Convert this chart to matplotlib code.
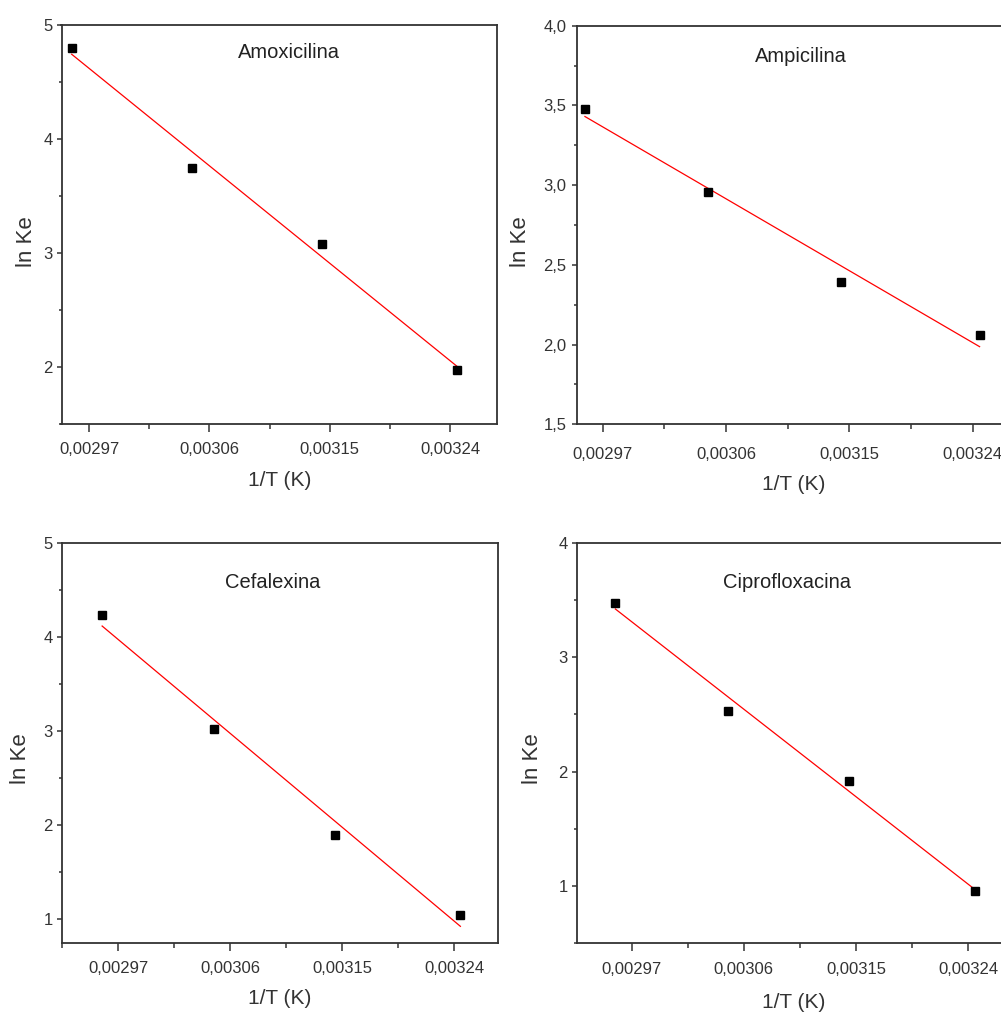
import numpy as np
import matplotlib
matplotlib.use("Agg")
import matplotlib.pyplot as plt
from matplotlib.ticker import FixedLocator, FuncFormatter

plt.rcParams['font.family'] = ['Liberation Sans', 'DejaVu Sans']

# 1/T for the four temperatures (same in every panel)
inv_T = [0.002957, 0.003047, 0.003144, 0.003245]

names = ["Amoxicilina", "Ampicilina", "Cefalexina", "Ciprofloxacina"]
ln_ke_amox = [4.80, 3.75, 3.08, 1.98]
ln_ke_ampi = [3.48, 2.96, 2.39, 2.06]
ln_ke_cefa = [4.24, 3.02, 1.90, 1.05]
ln_ke_cipro = [3.48, 2.53, 1.92, 0.95]

x_major = [0.00297, 0.00306, 0.00315, 0.00324]
x_minor = [0.002925, 0.003015, 0.003105, 0.003195]

W, H = 1001, 1014
fig = plt.figure(figsize=(W / 100, H / 100), dpi=100)


def px_box(l, t, r, b):
    return [l / W, 1 - b / H, (r - l) / W, (b - t) / H]


panels = [
    dict(y=ln_ke_amox, box=(61.5, 25, 497, 424.3), xlim=(0.0029494, 0.003275),
         ylim=(1.5, 5), ymaj=[2, 3, 4, 5], ymin=np.arange(1.5, 5.01, 0.5), ydec=0,
         title=(289, 53), ylab=(27, 242), xlab=(280, 480), xpad=7, ypad=3),
    dict(y=ln_ke_ampi, box=(576.7, 25.7, 1020.7, 424.3), xlim=(0.002951, 0.003275),
         ylim=(1.5, 4), ymaj=[1.5, 2.0, 2.5, 3.0, 3.5, 4.0], ymin=np.arange(1.5, 4.01, 0.25), ydec=1,
         title=(801, 57), ylab=(520, 242), xlab=(794, 485), xpad=10, ypad=4),
    dict(y=ln_ke_cefa, box=(61.7, 543.3, 497.7, 942.7), xlim=(0.0029245, 0.003275),
         ylim=(0.75, 5), ymaj=[1, 2, 3, 4, 5], ymin=np.arange(1.0, 5.01, 0.5), ydec=0,
         title=(273, 582), ylab=(20, 759), xlab=(280, 998), xpad=7, ypad=3),
    dict(y=ln_ke_cipro, box=(576.7, 543.3, 1012, 942.7), xlim=(0.002926, 0.003275),
         ylim=(0.5, 4), ymaj=[1, 2, 3, 4], ymin=np.arange(0.5, 4.01, 0.5), ydec=0,
         title=(787, 583), ylab=(533, 759), xlab=(794, 1003), xpad=8, ypad=3),
]

for name, p in zip(names, panels):
    ax = fig.add_axes(px_box(*p['box']))
    x = np.array(inv_T)
    y = np.array(p['y'])
    slope, icpt = np.polyfit(x, y, 1)
    ax.plot(x, slope * x + icpt, color='#ff0000', lw=0.9, zorder=2)
    ax.plot(x, y, 's', color='black', ms=5.2, zorder=3)

    ax.set_xlim(*p['xlim'])
    ax.set_ylim(*p['ylim'])
    ax.xaxis.set_major_locator(FixedLocator(x_major))
    ax.xaxis.set_minor_locator(FixedLocator(x_minor))
    ax.yaxis.set_major_locator(FixedLocator(p['ymaj']))
    ax.yaxis.set_minor_locator(FixedLocator(p['ymin']))
    ax.xaxis.set_major_formatter(FuncFormatter(lambda v, pos: f"{v:.5f}".replace('.', ',')))
    dec = p['ydec']
    ax.yaxis.set_major_formatter(FuncFormatter(lambda v, pos, d=dec: f"{v:.{d}f}".replace('.', ',')))

    ax.tick_params(axis='x', which='major', direction='out', length=6, width=1.1,
                   labelsize=12, labelcolor='#333333', pad=p['xpad'], color='#333333')
    ax.tick_params(axis='x', which='minor', direction='out', length=3.5, width=1.1, color='#333333')
    ax.tick_params(axis='y', which='major', direction='out', length=3.5, width=1.1,
                   labelsize=12, labelcolor='#333333', pad=p['ypad'], color='#333333')
    ax.tick_params(axis='y', which='minor', direction='out', length=2, width=1.1, color='#333333')
    for s in ax.spines.values():
        s.set_color('#333333')
        s.set_linewidth(1.3)

    fig.text(p['title'][0] / W, 1 - p['title'][1] / H, name, ha='center', va='center',
             fontsize=14.5, color='#222222')
    fig.text(p['ylab'][0] / W, 1 - p['ylab'][1] / H, "ln Ke", rotation=90, ha='center',
             va='center', fontsize=16, color='#333333')
    fig.text(p['xlab'][0] / W, 1 - p['xlab'][1] / H, "1/T (K)", ha='center', va='center',
             fontsize=15, color='#333333')

fig.savefig("out.png", dpi=100)
